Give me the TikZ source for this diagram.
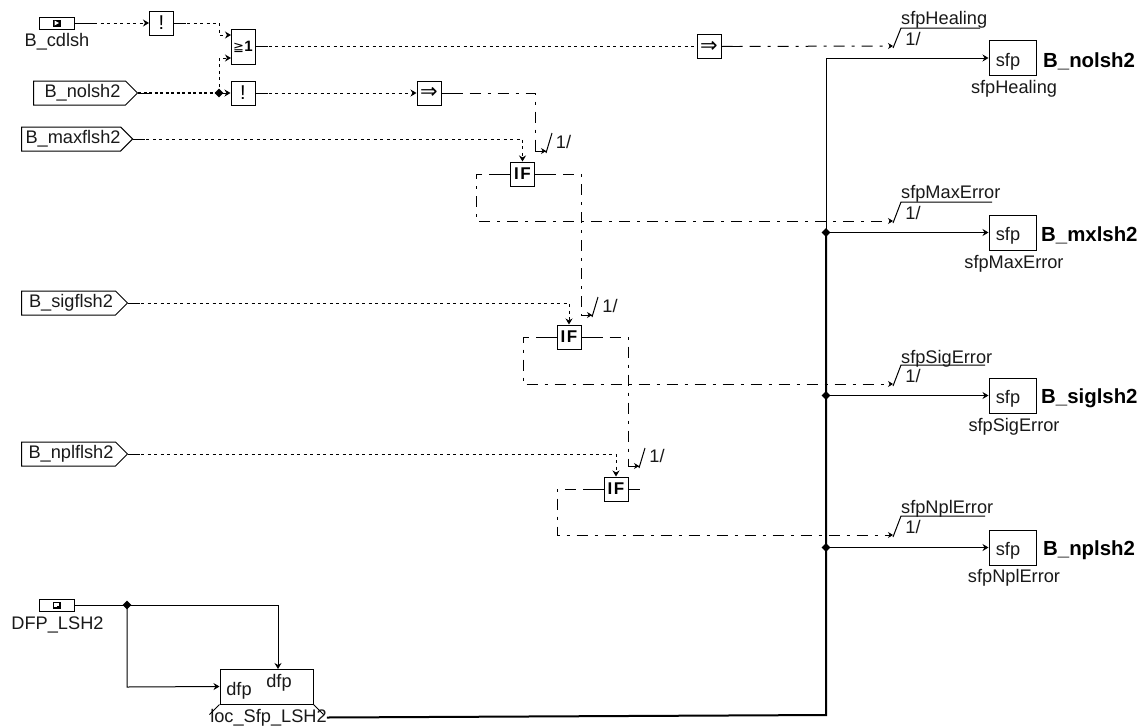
\documentclass[tikz,border=0pt]{standalone}
\usepackage{fontspec}
\setmainfont{Liberation Sans}
\newfontfamily\djv{DejaVu Sans}
\usetikzlibrary{arrows.meta,shapes.geometric,shapes.symbols,calc}
\newcommand{\ifmark}{\fontsize{17}{17}\selectfont\bfseries I\hspace{1.5pt}F}
\newcommand{\impl}{\fontsize{21}{21}\selectfont\djv ⇒}
\newcommand{\notmark}{\fontsize{20}{20}\selectfont !}
\tikzset{
  base/.style={font=\fontsize{18.2}{20}\selectfont,inner sep=0pt},
  lbl/.style={base,text=black!90,yshift=-1.5pt},
  blbl/.style={font=\fontsize{20.4}{22}\selectfont\bfseries,inner sep=0pt,anchor=west,yshift=-1pt},
  fbox/.style={draw=black,line width=1pt,fill=white,inner sep=0pt,minimum width=24pt,minimum height=24pt},
  orbox/.style={fbox,minimum height=35pt},
  sfpbox/.style={draw=black,line width=1pt,fill=white,base,minimum width=47pt,minimum height=35pt},
  pin/.style={draw=black,line width=1pt,fill=white,inner sep=0pt,minimum width=35pt,minimum height=12pt},
  sig/.style={signal,signal to=east,draw=black,line width=1pt,fill=white,base,text=black!90,minimum height=24pt,anchor=west},
  jun/.style={diamond,fill=black,inner sep=0pt,minimum size=9pt},
  wire/.style={line width=1pt,draw=black},
  solidw/.style={wire,-{Stealth[length=6pt,width=7pt]}},
  dots/.style={wire,dash pattern=on 3pt off 3.5pt},
  dotsa/.style={dots,-{Stealth[length=6pt,width=7pt]}},
  dotb/.style={line width=1.8pt,draw=black,dash pattern=on 3pt off 2.5pt},
  dd/.style={wire,dash pattern=on 11pt off 7pt on 3pt off 7pt},
  dda/.style={dd,-{Stealth[length=5pt,width=6pt]}},
  slsh/.style={line width=1pt,draw=black},
  thick bus/.style={line width=2pt,draw=black},
}
\begin{document}
\begin{tikzpicture}[x=1pt,y=-1pt]
\useasboundingbox[fill=white] (0,0) rectangle (1140,726);

% --- inputs
\node[pin] (cd) at (56.5,23) {};
\fill[black] (52.5,19.5) rectangle (60.5,26.5);
\fill[white] (54.5,20.5) -- (59,23) -- (54.5,25.5) -- cycle;
\node[lbl] (cdl) at (57,40) {B\_cdlsh};
\node[sig,minimum width=104pt] (no) at (33,93) {\raisebox{-1.5pt}{\hspace*{6pt}B\_nolsh2}};
\node[sig,minimum width=106pt] (mx) at (21,139) {\raisebox{-1.5pt}{\hspace*{4pt}B\_maxflsh2}};
\node[sig,minimum width=106pt] (si) at (21,303) {\raisebox{-1.5pt}{\hspace*{5pt}B\_sigflsh2}};
\node[sig,minimum width=106pt] (np) at (21,454) {\raisebox{-1.5pt}{\hspace*{5pt}B\_nplflsh2}};
\node[pin] (dfpin) at (56.5,605) {};
\fill[black] (52.5,601.5) rectangle (60.5,608.5);
\fill[white] (54,603) rectangle (58.5,607);
\fill[black] (57,605.5) rectangle (58.5,607);
\node[lbl] (dfl) at (57.5,623) {DFP\_LSH2};

% --- function boxes
\node[fbox] (n1) at (161.5,23) {\notmark};
\node[orbox] (or) at (243,46.5) {\fontsize{13}{13}\selectfont\djv ≧\hspace{0.3pt}\setmainfont{Liberation Sans}\rmfamily\bfseries\fontsize{15}{15}\selectfont 1};
\node[fbox] (n2) at (243,93) {\notmark};
\node[fbox] (c1) at (429,93) {\impl};
\node[fbox] (c2) at (709,46.5) {\impl};
\node[fbox] (if1) at (522.5,174) {\ifmark};
\node[fbox] (if2) at (569,337) {\ifmark};
\node[fbox] (if3) at (616,489) {\ifmark};

% --- sfp boxes
\node[sfpbox] (s1) at (1012.5,58) {};
\node[sfpbox] (s2) at (1012.5,232.5) {};
\node[sfpbox] (s3) at (1012.5,395.5) {};
\node[sfpbox] (s4) at (1012.5,547.5) {};
\foreach \nm/\y in {s1/60,s2/234.5,s3/397.5,s4/549.5}{\node[lbl] (t\nm) at (1008,\y) {sfp};}
\node[blbl] (b1) at (1043,60) {B\_nolsh2};
\node[blbl] (b2) at (1041,234) {B\_mxlsh2};
\node[blbl] (b3) at (1041,397) {B\_siglsh2};
\node[blbl] (b4) at (1043,549) {B\_nplsh2};
\node[lbl] (u1) at (1014,87) {sfpHealing};
\node[lbl] (u2) at (1014,262) {sfpMaxError};
\node[lbl] (u3) at (1014,425) {sfpSigError};
\node[lbl] (u4) at (1014,576) {sfpNplError};

% --- dfp box
\node[draw=black,line width=1pt,fill=white,minimum width=93pt,minimum height=35pt,inner sep=0pt] (d) at (266.5,686.5) {};
\node[lbl] (d1) at (239,689) {dfp};
\node[lbl] (d2) at (279,681) {dfp};
\node[lbl] (dl) at (268.5,716) {loc\_Sfp\_LSH2};

% --- junctions and corners
\coordinate (jno) at (219,93);
\coordinate (jor1) at (231,35);
\coordinate (jor2) at (231,58);
\coordinate (cA) at (219,23);
\coordinate (cB) at (219,58);
\coordinate (sl1) at (546,151);
\coordinate (sl2) at (592,315);
\coordinate (sl3) at (639,466);
\coordinate (r1) at (893,46);
\coordinate (r2) at (893,221);
\coordinate (r3) at (893,384);
\coordinate (r4) at (893,535);
\coordinate (bus0) at (826,58);
\coordinate (bus2) at (826,232.5);
\coordinate (bus3) at (826,395.5);
\coordinate (bus4) at (826,547.5);
\coordinate (bus5) at (826,715);
\coordinate (dj) at (127,605);

% --- dotted logic wires
\draw[wire] (cd.east) -- ++(20,0);
\draw[dotsa] (cd.east) -- (n1.west);
\draw[wire] (n1.east) -- ++(12,0);
\draw[dots] (n1.east) -- (cA);
\draw[dotsa] (cA) -- (219,35) -- (jor1);
\draw[dotsa] (jno) -- (cB) -- (jor2);
\draw[wire] (no.east) -- ++(12,0);
\draw[dotb] (no.east) -- (jno);
\draw[solidw] (jno) -- (n2.west);
\draw[wire] (or.east) -- ++(12,0);
\draw[dots] (or.east) -- (c2.west);
\draw[wire] (n2.east) -- ++(12,0);
\draw[dotsa] (n2.east) -- (c1.west);
\draw[wire] (mx.east) -- ++(12,0);
\draw[wire] (si.east) -- ++(12,0);
\draw[wire] (np.east) -- ++(12,0);
\draw[dotsa] (mx.east) -| (if1.north);
\draw[dotsa] (si.east) -| (if2.north);
\draw[dotsa] (np.east) -| (if3.north);

% --- dash-dot wires
\draw[wire] (c1.east) -- ++(20,0);
\draw[dda] (c1.east) -- (535,93) -- (535,151) -- (sl1);
\draw[wire] (c2.east) -- ++(20,0);
\draw[dda] (c2.east) -- (r1);
\draw[wire] (if1.west) -- ++(-20,0);
\draw[dda] (if1.west) -- (476,174) -- (476,221) -- (r2);
\draw[wire] (if1.east) -- ++(20,0);
\draw[dda] (if1.east) -- (581,174) -- (581,315) -- (sl2);
\draw[wire] (if2.west) -- ++(-20,0);
\draw[dda] (if2.west) -- (523,337) -- (523,384) -- (r3);
\draw[wire] (if2.east) -- ++(20,0);
\draw[dda] (if2.east) -- (628,337) -- (628,466) -- (sl3);
\draw[wire] (if3.west) -- ++(-20,0);
\draw[dda] (if3.west) -- (557,489) -- (557,535) -- (r4);
\draw[wire] (if3.east) -- ++(11,0);

% --- slash marks
\draw[wire] (535,151) -- (sl1);
\draw[wire] (581,315) -- (sl2);
\draw[wire] (628,466) -- (sl3);
\foreach \c in {sl1,sl2,sl3}{\draw[slsh] ($(\c)+(0,2)$) -- ++(6,-20);}
\node[lbl] (v1) at (563.5,140.5) {1/};
\node[lbl] (v2) at (610,304.5) {1/};
\node[lbl] (v3) at (657,454.5) {1/};
\draw[slsh] ($(r1)+(0,2)$) -- (901,28) -- (980,28);
\draw[slsh] ($(r2)+(0,2)$) -- (901,202) -- (992,202);
\draw[slsh] ($(r3)+(0,2)$) -- (901,365) -- (985,365);
\draw[slsh] ($(r4)+(0,2)$) -- (901,516) -- (985,516);
\node[lbl,anchor=west] (h1) at (901,18) {sfpHealing};
\node[lbl,anchor=west] (h2) at (901,192) {sfpMaxError};
\node[lbl,anchor=west] (h3) at (901,357) {sfpSigError};
\node[lbl,anchor=west] (h4) at (901,507) {sfpNplError};
\node[lbl] (w1) at (913,37) {1/};
\node[lbl] (w2) at (913,211) {1/};
\node[lbl] (w3) at (913,374) {1/};
\node[lbl] (w4) at (913,525) {1/};

% --- bus
\draw[solidw] (bus2) -- (bus0) -- (s1.west);
\draw[solidw] (bus2) -- (s2.west);
\draw[solidw] (bus3) -- (s3.west);
\draw[solidw] (bus4) -- (s4.west);
\draw[thick bus] (dl.east) -- (bus5) -- (bus2);

% --- dfp wires
\draw[solidw] (dfpin.east) -- (dj) -- (278,605) -- (278,669);
\draw[solidw] (dj) -- (127,687) -- (d.west);
\draw[slsh] (d.south west) -- ++(-10,10);
\draw[slsh] (d.south east) -- ++(10,10);

\node[jun] (jn1) at (jno) {};
\node[jun] (jn2) at (bus2) {};
\node[jun] (jn3) at (bus3) {};
\node[jun] (jn4) at (bus4) {};
\node[jun] (jn5) at (dj) {};
\end{tikzpicture}
\end{document}
